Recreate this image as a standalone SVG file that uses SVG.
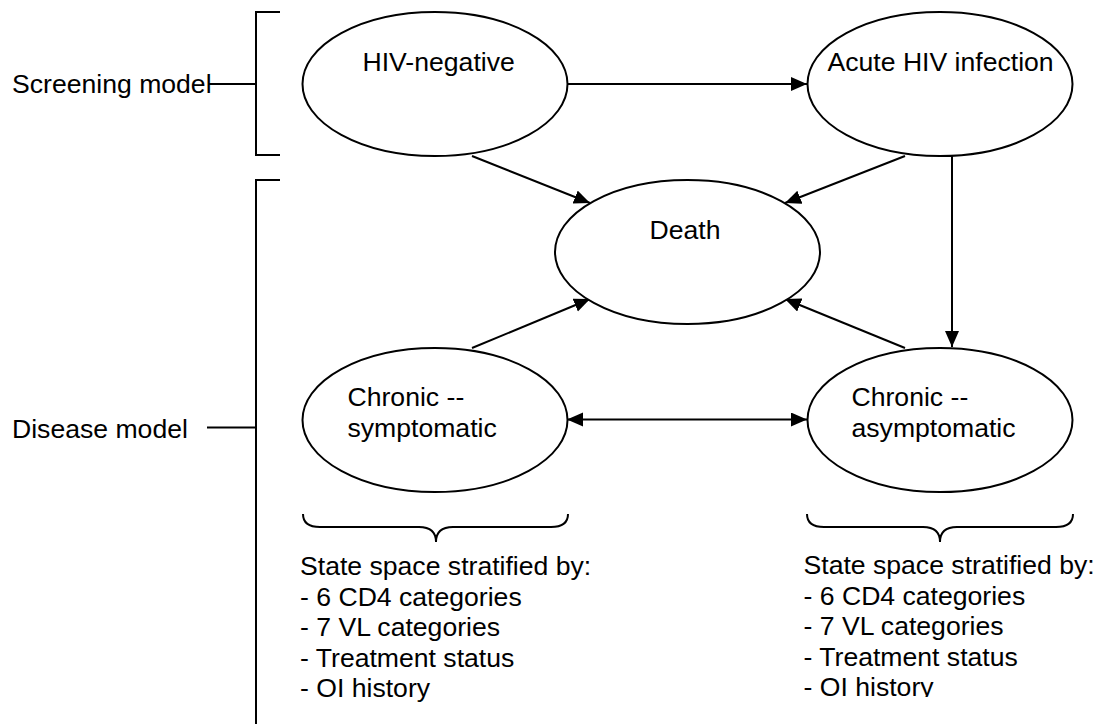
<svg xmlns="http://www.w3.org/2000/svg" width="1102" height="724" viewBox="0 0 1102 724">
  <style>
    text { font-family: "Liberation Sans", Arial, sans-serif; font-size: 26.6px; fill: #000; }
    .node { fill: #fff; stroke: #000; stroke-width: 2; }
    .edge { fill: none; stroke: #000; stroke-width: 2; marker-end: url(#arrow); }
    .bracket { fill: none; stroke: #000; stroke-width: 2; }
  </style>
  <defs>
    <marker id="arrow" markerUnits="userSpaceOnUse" markerWidth="17" markerHeight="15" refX="16" refY="7" orient="auto-start-reverse">
      <path d="M0,0 L16,7 L0,14 Z" fill="#000"/>
    </marker>
    <clipPath id="clip-right-notes">
      <rect x="790" y="540" width="312" height="157"/>
    </clipPath>
  </defs>
  <rect width="1102" height="724" fill="#fff"/>

  <!-- model brackets and their labels -->
  <g id="screening-bracket">
    <path class="bracket" d="M280,12 H256 V155 H280"/>
    <line class="bracket" x1="208" y1="84" x2="256" y2="84"/>
    <text x="12" y="93">Screening model</text>
  </g>
  <g id="disease-bracket">
    <path class="bracket" d="M280,180 H256 V726"/>
    <line class="bracket" x1="207" y1="427.5" x2="256" y2="427.5"/>
    <text x="12" y="438">Disease model</text>
  </g>

  <!-- connectors -->
  <g id="connectors">
    <line class="edge" x1="567" y1="84" x2="807" y2="84"/>
    <line class="edge" x1="472" y1="156" x2="590" y2="203"/>
    <line class="edge" x1="905" y1="156" x2="785" y2="203"/>
    <line class="edge" x1="952" y1="156" x2="952" y2="347"/>
    <line class="edge" x1="472" y1="348" x2="590" y2="299"/>
    <line class="edge" x1="905" y1="348" x2="785" y2="299"/>
    <line class="edge" style="marker-start: url(#arrow)" x1="567" y1="419.5" x2="807" y2="419.5"/>
  </g>

  <!-- states -->
  <g id="hiv-negative">
    <ellipse class="node" cx="435" cy="84" rx="132.5" ry="72"/>
    <text x="362.5" y="71">HIV-negative</text>
  </g>
  <g id="acute-hiv">
    <ellipse class="node" cx="940" cy="84" rx="132.5" ry="72"/>
    <text x="827.5" y="70.5">Acute HIV infection</text>
  </g>
  <g id="death">
    <ellipse class="node" cx="687.5" cy="252" rx="132.5" ry="72"/>
    <text x="649.5" y="238.5">Death</text>
  </g>
  <g id="chronic-symptomatic">
    <ellipse class="node" cx="435" cy="420" rx="132.5" ry="72"/>
    <text x="347.5" y="405.5">Chronic --</text>
    <text x="347.5" y="436.5">symptomatic</text>
  </g>
  <g id="chronic-asymptomatic">
    <ellipse class="node" cx="940" cy="420" rx="132.5" ry="72"/>
    <text x="851.5" y="406">Chronic --</text>
    <text x="851.5" y="436.5">asymptomatic</text>
  </g>

  <!-- stratification notes under each chronic state -->
  <g id="symptomatic-strata">
    <path class="bracket" d="M303,514 Q303,527 320,527 H419 Q436,527 436,542 Q436,527 453,527 H551 Q568,527 568,514"/>
    <text x="300" y="575">State space stratified by:</text>
    <text x="300" y="605.5">- 6 CD4 categories</text>
    <text x="300" y="636">- 7 VL categories</text>
    <text x="300" y="666.5">- Treatment status</text>
    <text x="300" y="697">- OI history</text>
  </g>
  <g id="asymptomatic-strata">
    <path class="bracket" d="M807,514 Q807,527 824,527 H923 Q940,527 940,542 Q940,527 957,527 H1056 Q1073,527 1073,514"/>
    <g clip-path="url(#clip-right-notes)">
      <text x="803.5" y="574">State space stratified by:</text>
      <text x="803.5" y="604.5">- 6 CD4 categories</text>
      <text x="803.5" y="635">- 7 VL categories</text>
      <text x="803.5" y="665.5">- Treatment status</text>
      <text x="803.5" y="696">- OI history</text>
    </g>
  </g>
</svg>
